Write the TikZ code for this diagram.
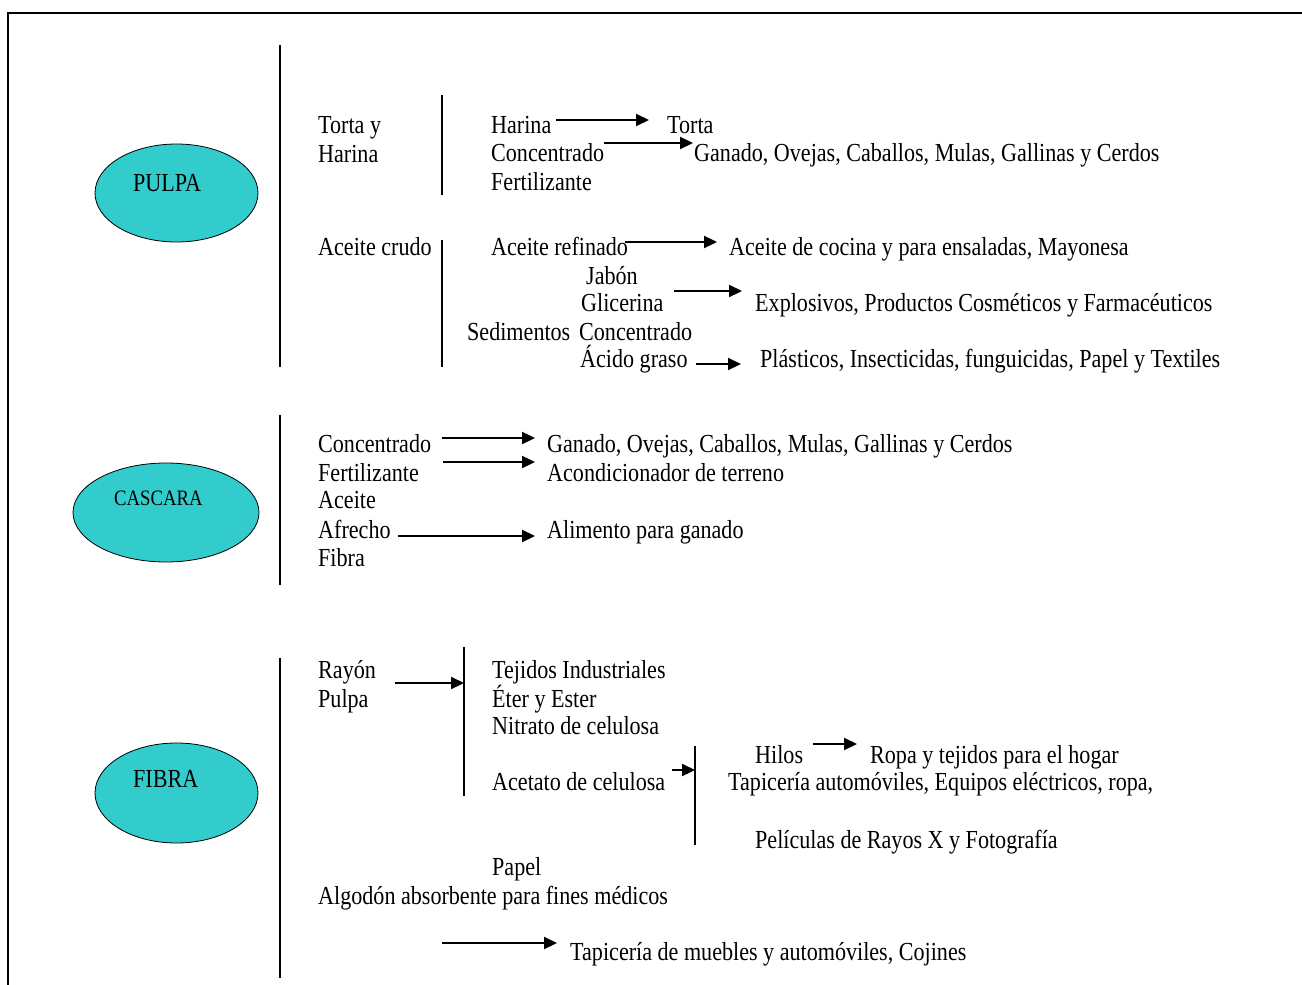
\documentclass[tikz,border=0pt]{standalone}
\usepackage{fontspec}
\setmainfont{Liberation Serif}[FakeStretch=0.85]
\usetikzlibrary{arrows.meta,shapes.geometric,calc}
\definecolor{turq}{RGB}{51,204,204}
\begin{document}
\begin{tikzpicture}[x=1pt,y=-1pt,
  lbl/.style={anchor=base west,inner sep=0pt},
  blob/.style={ellipse,draw,fill=turq,line width=0.8pt,inner sep=0pt},
  bar/.style={line width=1.6pt},
  arr/.style={line width=2.2pt,-{Triangle[length=13pt,width=12pt]}},
  font=\fontsize{26}{30}\selectfont]
\useasboundingbox (0,0) rectangle (1302,985);
\draw[line width=2.4pt] (1302,13) -- (8,13) -- (8,985);
% main groups
\node[blob,minimum width=163,minimum height=98] (pulpa) at (176.5,193) {};
\node[blob,minimum width=186,minimum height=99] (cascara) at (166,512.5) {};
\node[blob,minimum width=163,minimum height=100] (fibra) at (176.5,793) {};
\node[lbl] at (133,191) {PULPA};
\node[lbl,font=\fontsize{22}{26}\selectfont] at (114,505) {CASCARA};
\node[lbl] at (133,787) {FIBRA};
\coordinate (p1) at (280,45);  \coordinate (p2) at (280,367);
\coordinate (c1) at (280,415); \coordinate (c2) at (280,585);
\coordinate (f1) at (280,658); \coordinate (f2) at (280,978);
\draw[bar] (p1) -- (p2);
\draw[bar] (c1) -- (c2);
\draw[bar] (f1) -- (f2);
% pulpa
\coordinate (t1) at (442,95);  \coordinate (t2) at (442,195);
\coordinate (a1) at (442,240); \coordinate (a2) at (442,367);
\draw[bar] (t1) -- (t2);
\draw[bar] (a1) -- (a2);
\node[lbl] (tortay) at (318,133) {Torta y};
\node[lbl] (harinaL) at (318,162) {Harina};
\node[lbl] (harina) at (491,133) {Harina};
\node[lbl] (torta) at (667,133) {Torta};
\node[lbl] (concA) at (491,161) {Concentrado};
\node[lbl] (ganadoA) at (694,161) {Ganado, Ovejas, Caballos, Mulas, Gallinas y Cerdos};
\node[lbl] (fertA) at (491,190) {Fertilizante};
\node[lbl] (crudo) at (318,255) {Aceite crudo};
\node[lbl] (refinado) at (491,255) {Aceite refinado};
\node[lbl] (cocina) at (729,255) {Aceite de cocina y para ensaladas, Mayonesa};
\node[lbl] (jabon) at (586,284) {Jabón};
\node[lbl] (glicerina) at (581,311) {Glicerina};
\node[lbl] (explosivos) at (755,311) {Explosivos, Productos Cosméticos y Farmacéuticos};
\node[lbl] (sedimentos) at (467,340) {Sedimentos};
\node[lbl] (concB) at (579,340) {Concentrado};
\node[lbl] (acido) at (580,367) {Ácido graso};
\node[lbl] (plasticos) at (760,367) {Plásticos, Insecticidas, funguicidas, Papel y Textiles};
\draw[arr] ($(harina.base east)+(4,-13)$) -- ($(torta.base west)+(-18,-13)$);
\draw[arr] ($(concA.base east)+(0,-18)$) -- ($(ganadoA.base west)+(-1,-18)$);
\draw[arr] ($(refinado.base east)+(-3,-13)$) -- ($(cocina.base west)+(-12,-13)$);
\draw[arr] ($(glicerina.base east)+(10,-20)$) -- ($(explosivos.base west)+(-13,-20)$);
\draw[arr] ($(acido.base east)+(8,-3)$) -- ($(plasticos.base west)+(-19,-3)$);
% cascara
\node[lbl] (concC) at (318,452) {Concentrado};
\node[lbl] (ganadoC) at (547,452) {Ganado, Ovejas, Caballos, Mulas, Gallinas y Cerdos};
\node[lbl] (fertC) at (318,481) {Fertilizante};
\node[lbl] (terreno) at (547,481) {Acondicionador de terreno};
\node[lbl] (aceiteC) at (318,508) {Aceite};
\node[lbl] (afrecho) at (318,538) {Afrecho};
\node[lbl] (alimento) at (547,538) {Alimento para ganado};
\node[lbl] (fibraC) at (318,566) {Fibra};
\draw[arr] ($(concC.base east)+(11,-14)$) -- ($(ganadoC.base west)+(-12,-14)$);
\draw[arr] ($(fertC.base east)+(24,-19)$) -- ($(terreno.base west)+(-12,-19)$);
\draw[arr] ($(afrecho.base east)+(7,-2)$) -- ($(alimento.base west)+(-12,-2)$);
% fibra
\coordinate (r1) at (464,647); \coordinate (r2) at (464,796);
\coordinate (h1) at (695,746); \coordinate (h2) at (695,845);
\draw[bar] (r1) -- (r2);
\draw[bar] (h1) -- (h2);
\node[lbl] (rayon) at (318,678) {Rayón};
\node[lbl] (pulpaF) at (318,707) {Pulpa};
\node[lbl] (tejidos) at (492,678) {Tejidos Industriales};
\node[lbl] (eter) at (492,707) {Éter y Ester};
\node[lbl] (nitrato) at (492,734) {Nitrato de celulosa};
\node[lbl] (acetato) at (492,790) {Acetato de celulosa};
\node[lbl] (hilos) at (755,763) {Hilos};
\node[lbl] (ropa) at (870,763) {Ropa y tejidos para el hogar};
\node[lbl] (tapauto) at (728,790) {Tapicería automóviles, Equipos eléctricos, ropa,};
\node[lbl] (peliculas) at (755,848) {Películas de Rayos X y Fotografía};
\node[lbl] (papel) at (492,875) {Papel};
\node[lbl] (algodon) at (318,904) {Algodón absorbente para fines médicos};
\node[lbl] (muebles) at (570,960) {Tapicería de muebles y automóviles, Cojines};
\coordinate (cojin) at (442,943);
\draw[arr] ($(rayon.base east)+(19,5)$) -- ($(r1)+(0,36)$);
\draw[arr] ($(acetato.base east)+(7,-20)$) -- ($(h1)+(0,24)$);
\draw[arr] ($(hilos.base east)+(10,-19)$) -- ($(ropa.base west)+(-13,-19)$);
\draw[arr] (cojin) -- ($(muebles.base west)+(-13,-17)$);
\end{tikzpicture}
\end{document}
